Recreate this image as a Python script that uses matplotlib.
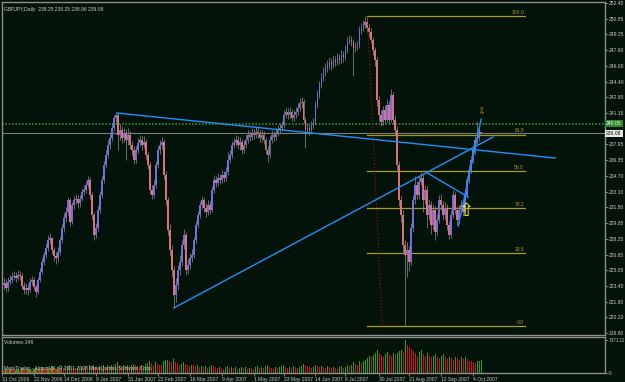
import numpy as np
import matplotlib.pyplot as plt

plt.rcParams['font.family'] = ['Liberation Sans', 'DejaVu Sans']

# GBPJPY daily bars, 31 Oct 2006 .. 11 Oct 2007
first_open = 223.2
closes = [
    223.5, 223.7, 223.2, 223.8, 224.0, 224.3, 224.5, 224.2, 224.6, 224.5,
    223.4, 223.0, 223.2, 223.0, 223.8, 224.0, 223.3, 222.8, 224.0, 224.9,
    225.9, 226.6, 227.3, 228.1, 228.3, 227.1, 226.5, 226.3, 226.9, 228.1,
    229.4, 230.4, 231.0, 232.2, 230.0, 231.7, 232.2, 232.4, 231.9, 232.4,
    233.1, 233.3, 233.8, 234.3, 232.8, 230.7, 228.7, 229.4, 231.2, 232.8,
    234.3, 235.8, 236.9, 237.9, 238.6, 239.6, 240.7, 241.0, 238.9, 239.4,
    238.6, 239.1, 238.4, 238.9, 237.9, 237.4, 236.3, 237.4, 238.1, 238.4,
    237.9, 238.2, 236.9, 235.8, 233.3, 232.8, 233.8, 235.8, 237.4, 237.9,
    238.2, 234.8, 232.2, 229.2, 227.1, 225.1, 222.5, 223.5, 225.1, 225.9,
    227.6, 228.7, 225.1, 225.6, 226.3, 226.6, 228.1, 229.7, 230.7, 231.7,
    232.2, 231.4, 231.0, 231.7, 231.2, 233.3, 234.3, 234.0, 234.5, 234.3,
    234.8, 234.5, 235.1, 236.4, 236.9, 237.9, 238.1, 238.4, 237.9, 238.2,
    237.4, 237.9, 238.4, 238.9, 238.7, 239.1, 238.9, 239.2, 239.0, 238.6,
    238.9, 238.4, 237.4, 236.9, 238.4, 238.9, 238.7, 239.1, 239.4, 239.6,
    239.9, 241.0, 241.3, 241.0, 241.3, 240.7, 241.0, 241.3, 241.7, 242.2,
    242.3, 240.5, 239.4, 239.6, 239.4, 239.8, 240.2, 242.0, 243.0, 244.0,
    244.8, 245.4, 245.8, 246.1, 246.4, 246.1, 246.6, 246.4, 246.8, 246.6,
    247.1, 246.9, 247.6, 248.5, 248.7, 248.5, 247.8, 248.0, 248.1, 249.7,
    249.9, 250.2, 250.5, 249.9, 249.5, 248.7, 247.6, 246.6, 242.5, 241.0,
    240.2, 241.5, 240.5, 242.0, 240.5, 243.0, 240.5, 239.4, 235.8, 232.2,
    230.7, 227.6, 226.6, 227.1, 225.9, 229.4, 232.2, 233.8, 232.8, 234.1,
    234.5, 232.2, 233.3, 230.7, 231.7, 229.7, 231.2, 229.0, 230.2, 232.2,
    231.7, 230.7, 231.4, 229.7, 228.7, 230.7, 232.8, 231.2, 230.2, 231.2,
    231.7, 231.0, 232.8, 234.3, 235.3, 236.4, 237.4, 238.4, 238.6, 239.25,
    239.08,
]
highs = [
    224.0, 224.2, 224.1, 224.3, 224.6, 224.9, 225.0, 224.9, 225.1, 225.0,
    224.8, 223.8, 223.7, 223.6, 224.2, 224.5, 224.3, 223.6, 224.3, 225.3,
    226.3, 227.0, 227.8, 228.7, 228.9, 228.5, 227.4, 226.9, 227.4, 228.5,
    229.8, 230.9, 231.5, 232.6, 232.5, 232.0, 232.7, 232.9, 232.8, 232.8,
    233.5, 233.8, 234.2, 234.7, 234.6, 233.1, 231.0, 229.9, 231.6, 233.2,
    234.7, 236.2, 237.4, 238.4, 239.1, 240.1, 241.0, 241.2, 241.2, 240.0,
    239.8, 239.6, 239.5, 239.6, 239.3, 238.3, 237.8, 237.8, 238.6, 238.9,
    238.8, 238.8, 238.5, 237.2, 236.1, 233.8, 234.3, 236.2, 237.8, 238.4,
    238.7, 238.5, 235.2, 232.6, 229.8, 227.6, 225.5, 224.2, 225.6, 226.6,
    228.1, 229.3, 229.0, 226.2, 226.8, 227.2, 228.5, 230.1, 231.1, 232.1,
    232.7, 232.6, 231.9, 232.2, 232.1, 233.7, 234.8, 234.7, 235.0, 234.9,
    235.3, 235.2, 235.6, 237.2, 237.4, 238.3, 238.6, 238.9, 238.8, 238.7,
    238.5, 238.4, 238.9, 239.4, 239.3, 239.6, 239.5, 239.7, 239.6, 239.4,
    239.4, 239.3, 238.7, 237.8, 238.8, 239.4, 239.3, 239.6, 239.9, 240.1,
    240.4, 241.5, 241.8, 241.7, 241.8, 241.6, 241.5, 241.8, 242.2, 242.7,
    242.8, 242.6, 240.8, 240.1, 240.0, 240.3, 240.7, 242.4, 243.5, 244.5,
    245.3, 245.9, 246.3, 246.6, 246.9, 246.8, 247.1, 247.0, 247.3, 247.2,
    247.6, 247.5, 248.1, 249.0, 249.2, 249.1, 248.8, 248.5, 248.6, 250.1,
    250.4, 250.7, 251.1, 251.1, 250.3, 249.9, 249.0, 247.9, 246.9, 242.9,
    241.5, 241.9, 242.0, 242.6, 242.4, 243.6, 243.3, 241.0, 239.8, 236.2,
    232.7, 231.2, 228.1, 227.9, 227.5, 229.9, 232.8, 234.7, 234.2, 234.7,
    235.1, 234.9, 233.8, 233.7, 232.3, 232.1, 231.8, 231.6, 230.8, 232.8,
    232.9, 232.1, 232.0, 231.8, 230.1, 231.2, 233.3, 233.1, 231.6, 231.7,
    232.2, 232.1, 233.2, 234.7, 235.8, 236.8, 237.9, 238.8, 240.4, 239.8,
    239.25,
]
lows = [
    222.7, 223.1, 222.8, 222.9, 223.5, 223.7, 224.0, 223.8, 224.0, 224.0,
    223.1, 222.6, 222.6, 222.5, 222.8, 223.5, 223.0, 222.3, 222.6, 223.8,
    224.7, 225.6, 226.3, 227.0, 227.7, 226.7, 226.0, 225.7, 225.9, 226.6,
    227.8, 229.0, 230.0, 230.7, 229.6, 229.8, 231.3, 231.8, 231.4, 231.5,
    232.1, 232.8, 233.0, 233.5, 232.4, 230.3, 228.1, 228.3, 229.1, 230.9,
    232.5, 234.0, 235.5, 236.6, 237.5, 238.3, 239.3, 240.2, 237.4, 238.4,
    238.1, 238.2, 236.3, 237.9, 237.5, 236.9, 235.9, 236.0, 237.1, 237.8,
    237.4, 237.6, 236.5, 235.4, 232.9, 232.3, 232.5, 233.5, 235.5, 237.0,
    237.5, 234.4, 231.7, 228.7, 226.5, 224.4, 221.2, 221.8, 223.0, 224.6,
    225.5, 227.2, 224.6, 224.7, 225.2, 225.9, 226.3, 227.8, 229.4, 230.4,
    231.3, 231.0, 230.5, 230.7, 230.8, 231.0, 233.0, 233.6, 233.7, 233.9,
    234.0, 234.1, 234.2, 234.8, 236.0, 236.6, 237.6, 237.8, 237.5, 237.4,
    237.0, 237.1, 237.6, 238.1, 238.3, 238.4, 238.5, 238.6, 238.6, 238.2,
    238.2, 238.0, 237.0, 236.1, 236.6, 238.1, 238.3, 238.4, 238.8, 239.1,
    239.3, 239.6, 240.7, 240.6, 240.7, 240.3, 240.4, 240.7, 241.0, 241.4,
    241.7, 240.1, 237.6, 239.0, 238.9, 239.1, 239.5, 239.9, 241.7, 242.7,
    243.7, 244.5, 245.0, 245.4, 245.7, 245.6, 245.8, 246.0, 246.1, 246.2,
    246.3, 246.4, 246.6, 247.3, 248.2, 248.0, 245.0, 247.4, 247.6, 247.8,
    249.3, 249.6, 249.9, 249.5, 249.0, 248.3, 247.1, 246.0, 241.9, 240.4,
    239.8, 239.9, 240.0, 240.2, 240.0, 240.2, 240.0, 238.9, 235.3, 231.6,
    230.0, 226.9, 219.3, 224.3, 225.0, 225.6, 229.0, 231.8, 232.3, 232.4,
    233.8, 231.0, 231.8, 229.4, 230.2, 228.8, 229.3, 228.1, 228.6, 229.9,
    231.2, 230.2, 230.3, 229.2, 228.2, 228.4, 230.4, 230.8, 229.7, 229.9,
    230.8, 230.6, 230.7, 232.5, 234.0, 235.0, 236.0, 237.0, 238.0, 238.3,
    238.96,
]
volumes = [
    800, 650, 900, 700, 1000, 850, 600, 750, 950, 700,
    1100, 800, 650, 900, 1000, 700, 850, 1200, 950, 800,
    1300, 1000, 900, 1400, 1150, 1600, 1200, 1000, 1300, 1100,
    1500, 1200, 1000, 1400, 1700, 1300, 1100, 900, 1200, 1000,
    1300, 1100, 1500, 1250, 1800, 1600, 1900, 1400, 1200, 1500,
    1300, 1700, 1400, 1800, 1500, 1900, 1700, 2100, 2400, 1800,
    1500, 1700, 1400, 1900, 1600, 1800, 2000, 1700, 1500, 1400,
    1800, 1600, 2100, 2300, 2600, 2200, 1900, 2400, 2000, 1800,
    1700, 2600, 2900, 3000, 2700, 2500, 3100, 2400, 2200, 1900,
    2100, 2500, 2000, 1800, 1600, 1900, 1700, 1500, 1800, 1400,
    1600, 1300, 1500, 1200, 1400, 1700, 1500, 1300, 1100, 1400,
    1200, 1000, 1300, 1500, 1200, 1400, 1100, 1300, 1000, 1200,
    1400, 1100, 1300, 1000, 1200, 1100, 900, 1300, 1500, 1200,
    1400, 1100, 1600, 1800, 1400, 1200, 1000, 1300, 1100, 1400,
    1600, 1800, 1300, 1100, 1400, 1200, 1500, 1300, 1100, 1400,
    1600, 2000, 1900, 1500, 1300, 1200, 1400, 1700, 1500, 1300,
    1600, 1400, 1200, 1500, 1300, 1100, 1400, 1200, 1000, 1300,
    1500, 1200, 1400, 1700, 1500, 1800, 2400, 2100, 1900, 2600,
    2300, 2800, 3000, 3300, 3800, 3500, 4000, 4600, 5200, 4400,
    4000, 3600, 4200, 4800, 4300, 3900, 4600, 4100, 4500, 5000,
    5200, 4700, 7371, 6300, 5900, 5500, 4900, 4400, 3700, 4800,
    5100, 4300, 3800, 4400, 3900, 3500, 3900, 4300, 3600, 3300,
    3900, 4200, 3500, 3100, 3600, 3400, 3000, 3700, 3300, 2900,
    3600, 3200, 3500, 3100, 2800, 2700, 2500, 2300, 2600, 2800,
    2900,
]

date_bars = [0, 16, 31, 47, 63, 78, 94, 110, 126, 141, 157, 172, 189, 204, 220, 236]
date_labels = ["31 Oct 2006", "22 Nov 2006", "14 Dec 2006", "9 Jan 2007", "31 Jan 2007",
               "22 Feb 2007", "16 Mar 2007", "9 Apr 2007", "1 May 2007", "23 May 2007",
               "14 Jun 2007", "6 Jul 2007", "30 Jul 2007", "21 Aug 2007", "12 Sep 2007",
               "4 Oct 2007"]
price_ticks = [218.60, 220.20, 221.80, 223.40, 225.05, 226.65, 228.25, 229.85, 231.50,
               233.10, 234.70, 236.35, 237.95, 241.15, 242.80, 244.40, 246.00,
               247.60, 249.25, 250.85, 252.45]

# objects drawn on the chart: (bar, price) anchors
trend_lines = [((57.5, 241.17), (277, 236.55)),
               ((86, 221.17), (246, 238.71)),
               ((213, 235.02), (233.5, 232.55)),
               ((228.5, 229.58), (240, 240.55))]
fib_start, fib_end = 183, 262
fib_high, fib_low = 251.1, 219.3
fib_levels = [100.0, 61.8, 50.0, 38.2, 23.6, 0.0]
green_level = 240.05
last_price = 239.08

BG = "#041309"
FRAME = "#8c8c8c"
TXT = "#c8c8c8"
BULL = "#7070e0"
BEAR = "#e07078"
WICK = "#848484"
FIB = "#a89a28"
FS = 3.6

fig = plt.figure(figsize=(6.25, 3.82), dpi=100)
fig.patch.set_facecolor(BG)
W, H = 625.0, 382.0
ax = fig.add_axes([2 / W, (H - 335) / H, 603 / W, 333 / H])
axv = fig.add_axes([2 / W, (H - 373) / H, 603 / W, 36 / H], sharex=ax)

opens = [first_open] + closes[:-1]
idx = np.arange(len(closes))
o = np.array(opens)
c = np.array(closes)

for a in (ax, axv):
    a.set_facecolor(BG)
    for s in a.spines.values():
        s.set_color(FRAME)
        s.set_linewidth(1.0)
    a.yaxis.tick_right()
    a.tick_params(axis="y", colors=FRAME, labelcolor=TXT, labelsize=FS, length=2,
                  width=0.6, pad=1.0)

# candles
ax.vlines(idx, lows, highs, color=WICK, lw=0.55, zorder=3)
body_lo = np.minimum(o, c)
body_h = np.maximum(np.abs(c - o), 0.08)
cols = [BULL if cc >= oo else BEAR for oo, cc in zip(o, c)]
ax.bar(idx, body_h, bottom=body_lo, width=0.9, color=cols, lw=0, zorder=4)

ax.set_xlim(0.5, 302)
ax.set_ylim(218.40, 252.555)
ax.set_yticks(price_ticks)
ax.set_yticklabels([f"{t:.2f}" for t in price_ticks])
ax.tick_params(axis="x", bottom=False, labelbottom=False)

# horizontal lines
ax.axhline(green_level, color="#2f8f2f", lw=1.2, ls=(0, (1, 1)), zorder=2)
ax.axhline(last_price, color="#7c7c7c", lw=0.8, zorder=2)

# fibonacci retracement
for lv in fib_levels:
    p = fib_low + (fib_high - fib_low) * lv / 100.0
    ax.plot([fib_start, fib_end], [p, p], color=FIB, lw=0.9, zorder=2)
    ax.text(fib_end - 0.5, p + 0.12, f"{lv:.1f}", color=FIB, fontsize=FS,
            ha="right", va="bottom", zorder=6)
ax.plot([fib_start, 190.5], [fib_high - 0.1, fib_low], color="#a01010", lw=0.8,
        ls=(0, (1, 2)), zorder=5)

for (x0, y0), (x1, y1) in trend_lines:
    ax.plot([x0, x1], [y0, y1], color="#1e8fff", lw=1.0, zorder=5)

# arrows
ax.text(232.5, 231.1, "\u21e7", color="#ffff00", fontsize=13, ha="center", va="center",
        family="DejaVu Sans", zorder=7)
ax.text(240, 241.3, "\u21e9", color="#c8a800", fontsize=6.5, ha="center", va="center",
        family="DejaVu Sans", zorder=7)

# price labels on the right
ax.text(1.002, green_level, "240.05", transform=ax.get_yaxis_transform(), fontsize=FS,
        color="white", va="center", ha="left",
        bbox=dict(boxstyle="square,pad=0.2", fc="#2a8a2a", ec="none"))
ax.text(1.002, last_price - 0.05, "239.08", transform=ax.get_yaxis_transform(),
        fontsize=FS, color="#101010", va="center", ha="left",
        bbox=dict(boxstyle="square,pad=0.2", fc="#e8e8e8", ec="none"))

ax.text(2 / 603, 0.985, "GBPJPY,Daily  239.25 239.25 238.96 239.08", transform=ax.transAxes,
        fontsize=FS, color=TXT, ha="left", va="top")

# volumes (green when volume rises, red when it falls)
v = np.array(volumes)
vcol = ["#22a022"] + ["#22a022" if v[i] > v[i - 1] else "#d41414" for i in range(1, len(v))]
axv.bar(idx, v, width=0.6, color=vcol, lw=0, antialiased=False)
axv.set_ylim(0, 8100)
axv.set_yticks([0, 7371])
axv.set_yticklabels(["0", "7371.11"])
axv.tick_params(axis="y", labelsize=3.3, pad=0.8)
axv.text(2 / 603, 0.93, "Volumes 246", transform=axv.transAxes, fontsize=FS,
         color=TXT, ha="left", va="top")
axv.text(2 / 603, 0.06, "MetaTrader - Alpari UK, \u00a9 2001-2007 MetaQuotes Software Corp.",
         transform=axv.transAxes, fontsize=FS, color=TXT, ha="left", va="bottom", zorder=6)

axv.set_xticks(date_bars)
axv.set_xticklabels(date_labels)
axv.tick_params(axis="x", colors=FRAME, labelcolor=TXT, labelsize=FS, length=2,
                width=0.6, pad=1)
for lab in axv.get_xticklabels():
    lab.set_horizontalalignment("left")

fig.savefig("out.png", dpi=100, facecolor=BG)
